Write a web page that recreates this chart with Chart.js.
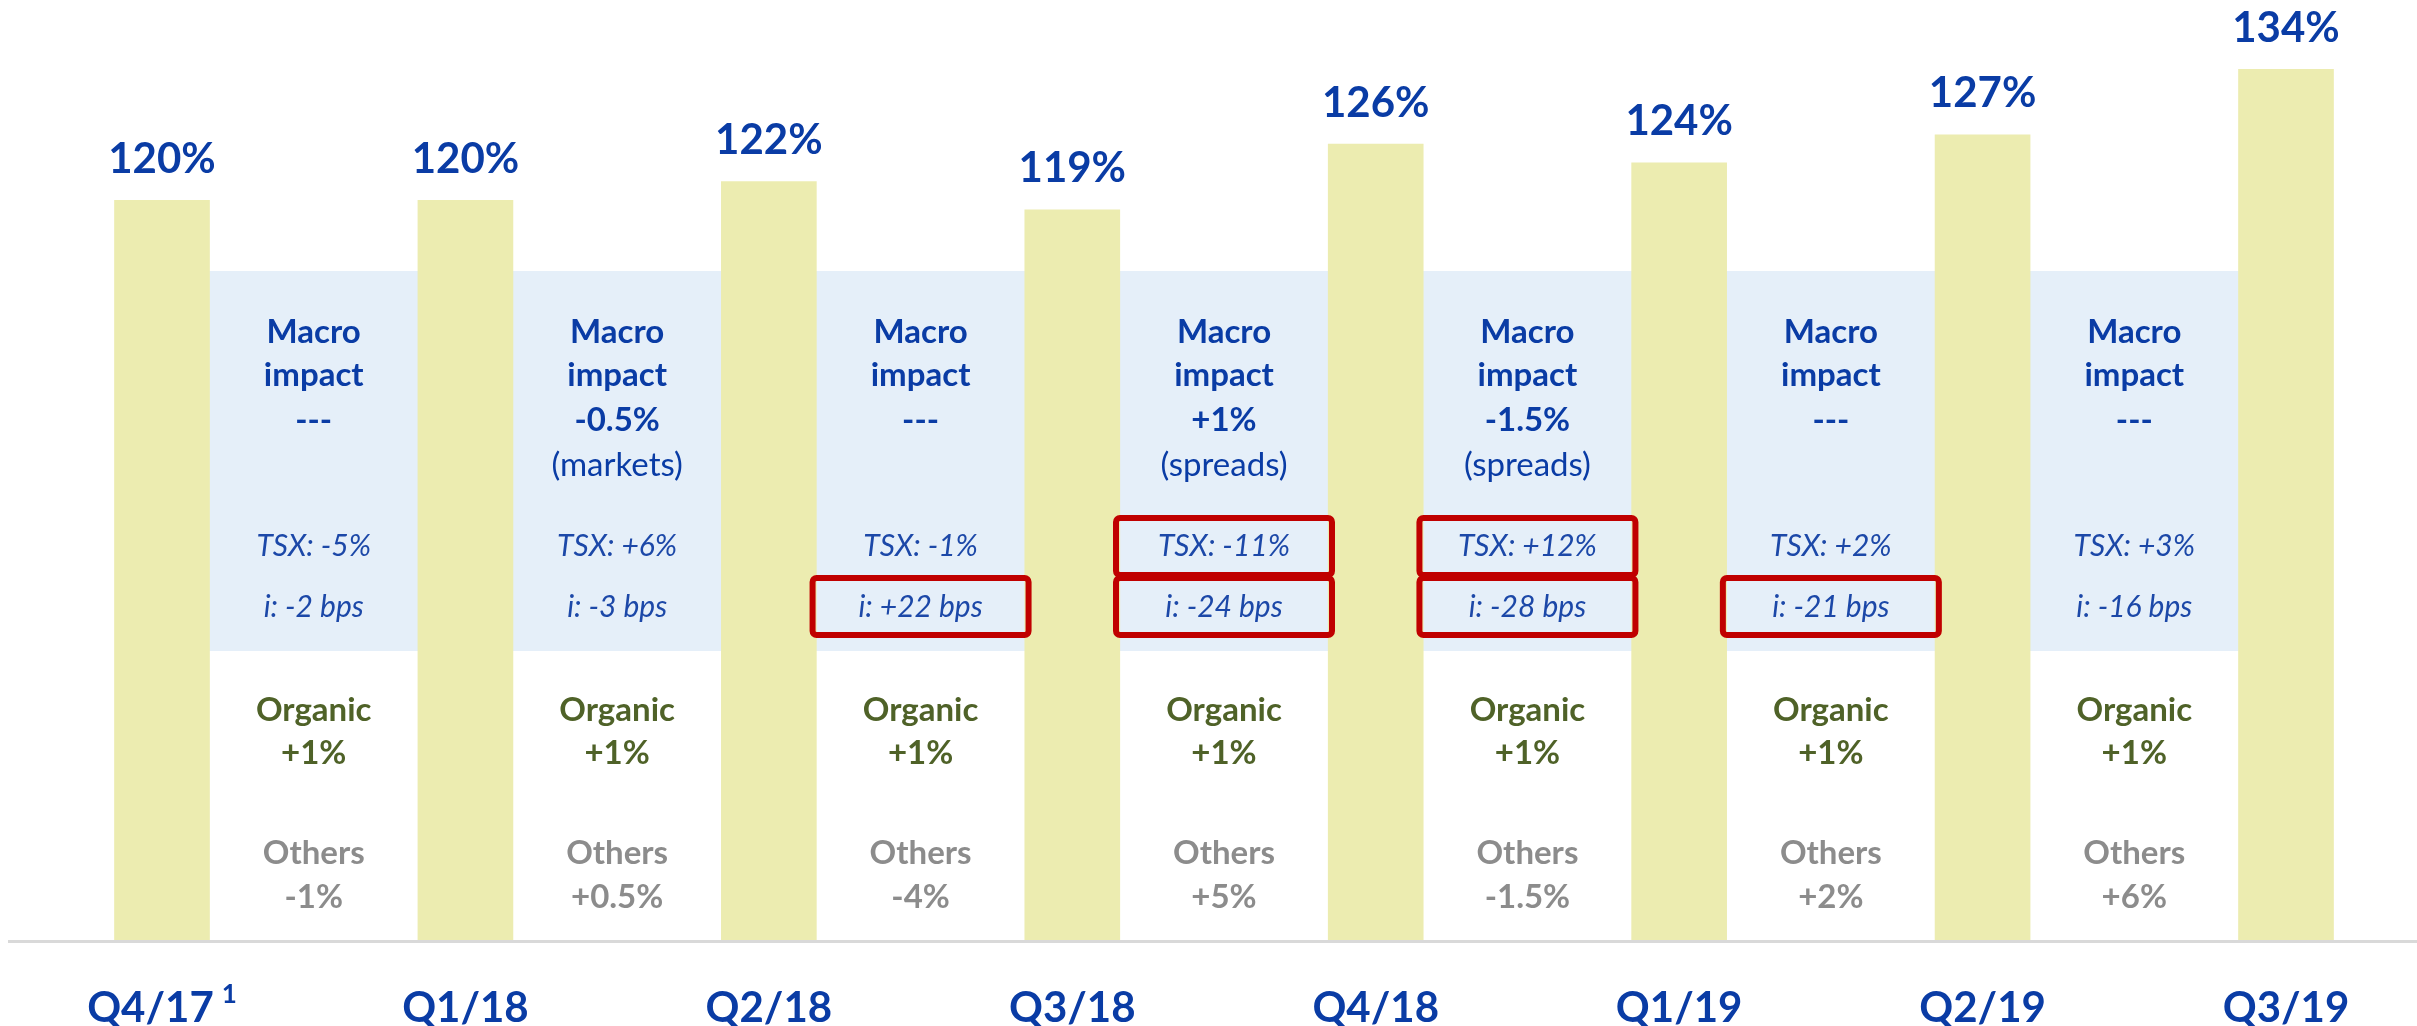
<!DOCTYPE html>
<html>
<head>
<meta charset="utf-8">
<script src="https://cdn.jsdelivr.net/npm/chart.js@4.4.1/dist/chart.umd.min.js"></script>
<style>
  html, body { margin: 0; padding: 0; background: #fff; }
  #wrap { width: 2417px; height: 1026px; position: relative; }
</style>
</head>
<body>
<div id="wrap"><canvas id="chart"></canvas></div>
<script>
// ratio per quarter
var quarters = ['Q4/17', 'Q1/18', 'Q2/18', 'Q3/18', 'Q4/18', 'Q1/19', 'Q2/19', 'Q3/19'];
var footnotes = ['1', '', '', '', '', '', '', ''];
var ratios = [120, 120, 122, 119, 126, 124, 127, 134];

// movements between two quarters (7 gaps)
var macroImpact = ['---', '-0.5%', '---', '+1%', '-1.5%', '---', '---'];
var macroDriver = ['', '(markets)', '', '(spreads)', '(spreads)', '', ''];
var tsxMoves = ['-5%', '+6%', '-1%', '-11%', '+12%', '+2%', '+3%'];
var rateMoves = ['-2', '-3', '+22', '-24', '-28', '-21', '-16'];
var organicGrowth = ['+1%', '+1%', '+1%', '+1%', '+1%', '+1%', '+1%'];
var otherItems = ['-1%', '+0.5%', '-4%', '+5%', '-1.5%', '+2%', '+6%'];
var tsxFlagged = [false, false, false, true, true, false, false];
var rateFlagged = [false, false, true, true, true, true, false];

var Y_MIN = 41, Y_MAX = 141.4;
var BLUE = '#0a3ca5';
var FONT = 'Lato, "Open Sans", sans-serif';

function roundRect(ctx, x, y, w, h, r) {
  ctx.beginPath();
  ctx.moveTo(x + r, y);
  ctx.arcTo(x + w, y, x + w, y + h, r);
  ctx.arcTo(x + w, y + h, x, y + h, r);
  ctx.arcTo(x, y + h, x, y, r);
  ctx.arcTo(x, y, x + w, y, r);
  ctx.closePath();
}

var gapNotes = {
  id: 'gapNotes',
  beforeDatasetsDraw: function(chart) {
    var ctx = chart.ctx, area = chart.chartArea, xs = chart.scales.x;
    var left = xs.getPixelForTick(0), right = xs.getPixelForTick(quarters.length - 1);
    ctx.save();
    ctx.fillStyle = '#e5eff9';
    ctx.fillRect(left, area.bottom - 669, right - left, 380);
    ctx.restore();
  },
  afterDatasetsDraw: function(chart) {
    var ctx = chart.ctx, area = chart.chartArea, xs = chart.scales.x;
    var b = area.bottom;
    ctx.save();

    // axis line across the whole width
    ctx.strokeStyle = '#d9d9d9';
    ctx.lineWidth = 3;
    ctx.beginPath();
    ctx.moveTo(8, b + 1.5);
    ctx.lineTo(chart.width, b + 1.5);
    ctx.stroke();

    ctx.textAlign = 'center';
    ctx.textBaseline = 'middle';

    // quarter labels under the axis
    ctx.fillStyle = BLUE;
    quarters.forEach(function(q, i) {
      var px = xs.getPixelForTick(i);
      ctx.font = 'bold 42px ' + FONT;
      var w = ctx.measureText(q).width;
      if (footnotes[i]) {
        ctx.font = 'bold 26px ' + FONT;
        var fw = ctx.measureText(footnotes[i]).width + 8;
        ctx.textAlign = 'left';
        ctx.fillText(footnotes[i], px - (w + fw) / 2 + w + 8, b + 55);
        ctx.textAlign = 'center';
        ctx.font = 'bold 42px ' + FONT;
        ctx.fillText(q, px - fw / 2, b + 68);
      } else {
        ctx.fillText(q, px, b + 68);
      }
    });

    // value labels on bars
    var meta = chart.getDatasetMeta(0);
    ctx.font = 'bold 42px ' + FONT;
    meta.data.forEach(function(bar, i) {
      ctx.fillText(ratios[i] + '%', bar.x, bar.y - 41);
    });

    for (var i = 0; i < quarters.length - 1; i++) {
      var cx = (xs.getPixelForTick(i) + xs.getPixelForTick(i + 1)) / 2;

      ctx.fillStyle = BLUE;
      ctx.font = 'bold 33px ' + FONT;
      ctx.fillText('Macro', cx, b - 608);
      ctx.fillText('impact', cx, b - 565);
      ctx.fillText(macroImpact[i], cx, b - 520);
      if (macroDriver[i]) {
        ctx.font = '33px ' + FONT;
        ctx.fillText(macroDriver[i], cx, b - 475);
      }

      ctx.fillStyle = '#1c48a8';
      ctx.font = 'italic 30px ' + FONT;
      ctx.fillText('TSX: ' + tsxMoves[i], cx, b - 394);
      ctx.fillText('i: ' + rateMoves[i] + ' bps', cx, b - 333);

      ctx.strokeStyle = '#c00000';
      ctx.lineWidth = 6;
      if (tsxFlagged[i]) { roundRect(ctx, cx - 108, b - 394 - 28, 216, 57, 4); ctx.stroke(); }
      if (rateFlagged[i]) { roundRect(ctx, cx - 108, b - 333 - 29, 216, 57, 4); ctx.stroke(); }

      ctx.fillStyle = '#4f6228';
      ctx.font = 'bold 33px ' + FONT;
      ctx.fillText('Organic', cx, b - 230);
      ctx.fillText(organicGrowth[i], cx, b - 187);

      ctx.fillStyle = '#8c8c8c';
      ctx.fillText('Others', cx, b - 87);
      ctx.fillText(otherItems[i], cx, b - 43);
    }
    ctx.restore();
  }
};

new Chart(document.getElementById('chart').getContext('2d'), {
  type: 'bar',
  data: {
    labels: quarters,
    datasets: [{
      data: ratios,
      base: Y_MIN,
      backgroundColor: '#ececb0',
      borderWidth: 0,
      barThickness: 95,
      clip: false
    }]
  },
  options: {
    responsive: true,
    maintainAspectRatio: false,
    animation: false,
    layout: { padding: { left: 162, right: 131, top: 0, bottom: 0 } },
    plugins: { legend: { display: false }, tooltip: { enabled: false } },
    scales: {
      x: {
        offset: false,
        grid: { display: false, drawTicks: false },
        border: { display: false },
        ticks: { display: false, autoSkip: false },
        afterFit: function(scale) { scale.height = 86; }
      },
      y: {
        display: false,
        min: Y_MIN,
        max: Y_MAX
      }
    }
  },
  plugins: [gapNotes]
});
</script>
</body>
</html>
